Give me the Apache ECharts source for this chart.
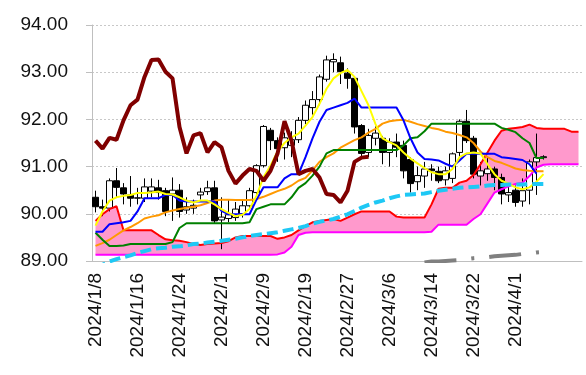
<!DOCTYPE html>
<html>
<head>
<meta charset="utf-8">
<script src="https://cdn.jsdelivr.net/npm/echarts@6/dist/echarts.min.js"></script>
<style>
html,body{margin:0;padding:0;background:#fff;}
#c{width:586px;height:375px;}
</style>
</head>
<body>
<div id="c"></div>
<script>
var dates = ['2024/1/8','2024/1/9','2024/1/10','2024/1/11','2024/1/12','2024/1/15','2024/1/16','2024/1/17','2024/1/18','2024/1/19',
'2024/1/22','2024/1/23','2024/1/24','2024/1/25','2024/1/26','2024/1/29','2024/1/30','2024/1/31','2024/2/1','2024/2/2',
'2024/2/5','2024/2/6','2024/2/7','2024/2/8','2024/2/9','2024/2/12','2024/2/13','2024/2/14','2024/2/15','2024/2/16',
'2024/2/19','2024/2/20','2024/2/21','2024/2/22','2024/2/23','2024/2/26','2024/2/27','2024/2/28','2024/2/29','2024/3/1',
'2024/3/4','2024/3/5','2024/3/6','2024/3/7','2024/3/8','2024/3/11','2024/3/12','2024/3/13','2024/3/14','2024/3/15',
'2024/3/18','2024/3/19','2024/3/20','2024/3/21','2024/3/22','2024/3/25','2024/3/26','2024/3/27','2024/3/28','2024/3/29',
'2024/4/1','2024/4/2','2024/4/3','2024/4/4','2024/4/5','','','','',''];

var yTicks = [89, 90, 91, 92, 93, 94];

var openP  = [90.35,90.15,90.12,90.70,90.55,90.40,90.33,90.33,90.48,90.55,90.49,90.42,90.50,90.08,90.12,90.40,90.47,90.55,89.87,89.90,
89.92,90.00,90.17,90.45,91.02,91.77,91.55,91.40,91.45,91.57,91.98,92.25,92.42,92.85,93.22,93.20,92.98,92.87,91.87,91.30,
91.60,91.60,91.30,91.52,91.45,91.15,90.68,90.80,90.95,90.90,90.72,90.75,91.30,91.96,91.60,90.80,90.85,90.95,90.77,90.40,
90.50,90.27,90.50,91.10,91.19];
var closeP = [90.15,90.12,90.70,90.56,90.42,90.33,90.34,90.57,90.57,90.45,90.05,90.50,90.05,90.15,90.18,90.46,90.55,89.85,89.93,89.98,
90.10,90.17,90.49,91.02,91.85,91.55,91.38,91.61,91.57,91.98,92.30,92.42,92.90,93.26,93.27,93.01,92.87,91.84,91.28,91.66,
91.71,91.30,91.52,91.41,90.91,90.64,90.81,90.95,90.91,90.70,90.91,91.27,91.96,91.55,90.84,90.91,90.95,90.77,90.42,90.45,
90.24,90.49,91.10,91.19,91.21];
var lowP   = [90.03,89.95,90.05,90.35,90.20,90.15,90.20,90.25,90.35,90.30,89.95,89.85,89.92,90.00,90.00,90.30,90.40,89.80,89.25,89.82,
89.85,89.92,90.12,90.40,90.98,91.35,91.10,91.15,91.20,91.50,91.90,92.10,92.30,92.80,93.00,92.75,92.65,91.70,91.20,91.20,
91.45,91.05,91.00,91.20,90.75,90.45,90.50,90.55,90.70,90.65,90.60,90.65,91.20,91.50,90.75,90.60,90.70,90.50,90.20,90.25,
90.15,90.15,90.20,90.40,91.15];
var highP  = [90.49,90.30,90.75,90.97,90.65,90.80,90.55,90.75,90.75,90.72,90.55,90.77,90.63,90.35,90.30,90.55,90.70,90.70,90.35,90.30,
90.25,90.30,90.55,91.05,91.88,91.82,91.62,91.72,91.75,92.05,92.40,92.60,92.95,93.35,93.40,93.33,93.08,92.90,91.90,91.80,
91.85,91.65,91.60,91.70,91.55,91.20,91.00,91.10,91.05,91.00,91.00,91.30,92.00,92.20,91.65,91.10,91.20,91.00,90.85,90.60,
90.60,90.75,91.15,91.70,91.24];

var conversionLine = [89.62,89.62,89.78,89.80,89.82,89.85,90.05,90.33,90.33,90.33,90.40,90.40,90.28,90.26,90.26,90.26,90.26,90.26,90.06,89.99,
89.99,89.99,89.99,90.30,90.56,90.56,90.56,90.75,90.84,90.84,91.20,91.60,91.95,92.20,92.25,92.30,92.35,92.44,92.25,92.25,
92.25,92.25,92.25,92.25,91.98,91.60,91.30,91.16,91.15,91.13,91.06,91.00,91.13,91.27,91.27,91.27,91.27,91.27,91.20,91.18,
91.16,91.14,91.05,90.85];
var baseLine = [89.60,89.45,89.32,89.32,89.33,89.36,89.36,89.36,89.36,89.36,89.36,89.40,89.70,89.80,89.80,89.80,89.80,89.80,89.80,89.80,
89.80,89.80,89.82,90.10,90.15,90.20,90.20,90.20,90.35,90.55,90.65,90.81,91.00,91.28,91.35,91.35,91.35,91.35,91.35,91.35,
91.35,91.35,91.35,91.35,91.45,91.60,91.62,91.75,91.91,91.91,91.91,91.91,91.91,91.91,91.91,91.91,91.91,91.91,91.82,91.78,
91.73,91.60,91.50,91.18,91.18];
var spanA = [89.85,89.99,90.10,90.16,89.65,89.65,89.65,89.65,89.65,89.55,89.46,89.44,89.43,89.40,89.36,89.34,89.36,89.37,89.38,89.42,
89.50,89.53,89.53,89.53,89.53,89.53,89.47,89.50,89.55,89.65,89.74,89.82,89.85,89.87,89.89,89.85,89.92,89.99,90.05,90.05,
90.05,90.05,90.05,89.94,89.92,89.92,89.92,89.92,90.20,90.53,90.55,90.55,90.66,90.70,90.82,91.05,91.30,91.55,91.76,91.80,
91.82,91.84,91.89,91.82,91.80,91.80,91.80,91.80,91.74,91.74];
var spanB = [89.13,89.13,89.13,89.13,89.13,89.13,89.13,89.13,89.13,89.13,89.13,89.13,89.13,89.13,89.13,89.13,89.13,89.13,89.13,89.13,
89.13,89.13,89.13,89.13,89.13,89.13,89.14,89.18,89.30,89.55,89.60,89.61,89.61,89.61,89.61,89.61,89.61,89.61,89.61,89.61,
89.61,89.61,89.61,89.61,89.61,89.61,89.61,89.61,89.62,89.77,89.77,89.77,89.77,89.77,89.89,89.99,90.22,90.45,90.52,90.58,
90.63,90.66,90.80,90.98,91.04,91.05,91.05,91.05,91.05,91.05];
var laggingSpan = [91.55,91.38,91.61,91.57,91.98,92.30,92.42,92.90,93.26,93.27,93.01,92.87,91.84,91.28,91.66,91.71,91.30,91.52,91.41,90.91,
90.64,90.81,90.95,90.91,90.70,90.91,91.27,91.96,91.55,90.84,90.91,90.95,90.77,90.42,90.40,90.24,90.49,91.10,91.19,91.21];
var ma5 = [89.75,90.05,90.28,90.35,90.38,90.40,90.44,90.44,90.45,90.47,90.42,90.41,90.35,90.28,90.24,90.28,90.28,90.20,90.10,90.02,
89.95,89.98,90.10,90.38,90.78,91.02,91.32,91.50,91.62,91.70,91.87,92.05,92.33,92.65,92.87,92.98,93.05,92.90,92.60,92.30,
91.90,91.60,91.52,91.45,91.30,91.17,91.07,90.97,90.88,90.84,90.84,90.95,91.20,91.28,91.30,91.28,91.05,90.84,90.70,90.64,
90.56,90.52,90.56,90.68,90.84];
var ma25 = [89.32,89.38,89.45,89.55,89.65,89.72,89.80,89.90,89.94,89.97,90.03,90.07,90.10,90.13,90.15,90.18,90.23,90.28,90.30,90.30,
90.29,90.29,90.29,90.31,90.36,90.42,90.48,90.53,90.60,90.70,90.76,90.92,91.10,91.20,91.28,91.40,91.48,91.56,91.62,91.72,
91.80,91.91,91.96,91.98,91.99,91.95,91.90,91.86,91.82,91.79,91.74,91.71,91.67,91.62,91.50,91.32,91.20,91.12,91.08,91.02,
90.96,90.93,90.91,90.90,90.90];
var ma75 = [88.84,88.92,88.99,89.04,89.08,89.12,89.17,89.21,89.25,89.27,89.28,89.30,89.31,89.33,89.36,89.37,89.39,89.41,89.43,89.45,
89.47,89.50,89.53,89.55,89.57,89.59,89.61,89.64,89.67,89.70,89.74,89.79,89.83,89.86,89.89,89.94,89.99,90.06,90.13,90.19,
90.24,90.28,90.33,90.37,90.40,90.41,90.42,90.43,90.46,90.49,90.51,90.53,90.55,90.56,90.57,90.58,90.60,90.61,90.61,90.62,
90.62,90.62,90.63,90.63,90.63];
var ma200 = [null,null,null,null,null,null,null,null,null,null,null,null,null,null,null,null,null,null,null,null,
null,null,null,null,null,null,null,null,null,null,null,null,null,null,null,null,null,null,null,null,
null,null,null,null,null,null,null,88.97,88.99,88.99,89.00,89.01,89.02,89.04,89.06,89.07,89.08,89.10,89.11,89.12,
89.13,89.15,89.16,89.18,89.19];

// structures the library needs
var candleData = openP.map(function(o, i){ return [o, closeP[i], lowP[i], highP[i]]; });
var cloudBase = spanA.map(function(a, i){ return Math.min(a, spanB[i]); });
var cloudBand = spanA.map(function(a, i){ return Math.abs(a - spanB[i]); });

function lineSeries(name, data, color, width, type, z){
  return {
    name: name, type: 'line', data: data, symbol: 'none', z: z || 3,
    lineStyle: {color: color, width: width, type: type || 'solid'},
    silent: true, animation: false
  };
}

var chart = echarts.init(document.getElementById('c'), null, {renderer: 'canvas'});
chart.setOption({
  animation: false,
  backgroundColor: '#ffffff',
  grid: {left: 92, right: 4, top: 25, bottom: 114},
  xAxis: {
    type: 'category', data: dates, boundaryGap: true,
    axisLine: {lineStyle: {color: '#BFBFBF', width: 1}},
    axisTick: {show: false},
    axisLabel: {interval: 5, rotate: 90, margin: 12, color: '#111', fontSize: 19, fontFamily: 'Liberation Sans'},
    splitLine: {show: false}
  },
  yAxis: {
    type: 'value', min: yTicks[0], max: yTicks[yTicks.length - 1], interval: 1,
    axisLine: {show: true, lineStyle: {color: '#BFBFBF'}},
    axisTick: {show: true, length: 6, lineStyle: {color: '#BFBFBF'}},
    axisLabel: {margin: 24, color: '#111', fontSize: 19, fontFamily: 'Liberation Sans',
      formatter: function(v){ return v.toFixed(2); }},
    splitLine: {show: true, lineStyle: {color: '#C8C8C8', type: [2, 2]}}
  },
  series: [
    {name: 'cloudBase', type: 'line', stack: 'cloud', data: cloudBase, symbol: 'none',
     lineStyle: {opacity: 0}, silent: true, z: 1},
    {name: 'cloudBand', type: 'line', stack: 'cloud', data: cloudBand, symbol: 'none',
     lineStyle: {opacity: 0}, areaStyle: {color: '#FF99CC', opacity: 1}, silent: true, z: 1},
    {name: 'candles', type: 'candlestick', data: candleData, barWidth: 6, z: 2,
     itemStyle: {color: '#ffffff', color0: '#000000', borderColor: '#000000', borderColor0: '#000000', borderWidth: 1}},
    lineSeries('spanA', spanA, '#FF0000', 2),
    lineSeries('spanB', spanB, '#FF00FF', 2),
    lineSeries('ma25', ma25, '#FF9900', 2),
    lineSeries('base', baseLine, '#008000', 2),
    lineSeries('conv', conversionLine, '#0000FF', 2),
    lineSeries('ma5', ma5, '#FFFF00', 2),
    lineSeries('ma75', ma75, '#1EC8F5', 4, [11, 5]),
    lineSeries('ma200', ma200, '#808080', 4, [32, 15, 3, 15]),
    lineSeries('lagging', laggingSpan, '#800000', 4)
  ]
});
</script>
</body>
</html>
